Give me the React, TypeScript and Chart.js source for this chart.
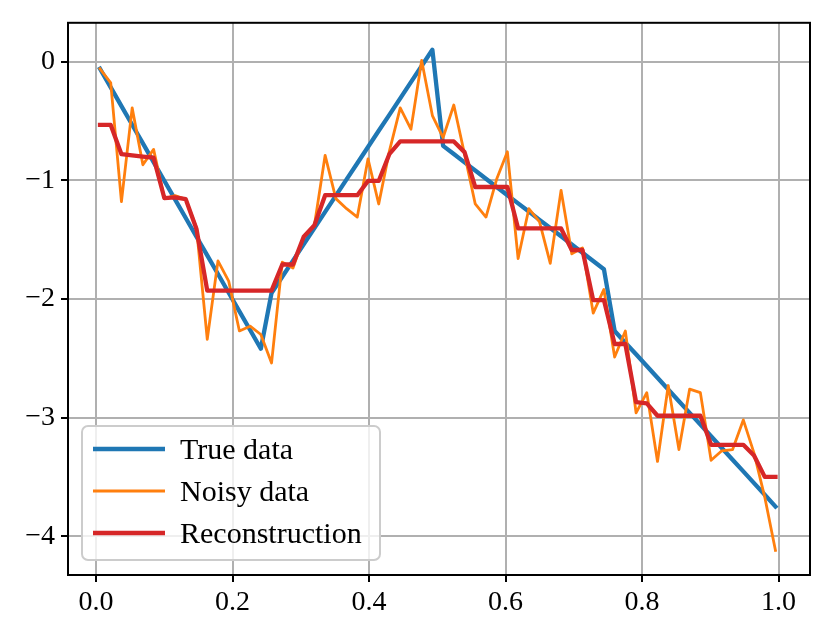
import React, { useEffect, useRef } from 'react';
import { Chart, registerables } from 'chart.js';

Chart.register(...registerables);

const xValues = [
  0.0059, 0.0216, 0.0373, 0.053, 0.0687, 0.0844, 0.1001, 0.1158,
  0.1315, 0.1472, 0.163, 0.1787, 0.1944, 0.2101, 0.2258, 0.2415,
  0.2572, 0.2729, 0.2886, 0.3043, 0.32, 0.3357, 0.3514, 0.3671,
  0.3828, 0.3985, 0.4142, 0.43, 0.4457, 0.4614, 0.4771, 0.4928,
  0.5085, 0.5242, 0.5399, 0.5556, 0.5713, 0.587, 0.6027, 0.6184,
  0.6341, 0.6498, 0.6655, 0.6813, 0.697, 0.7127, 0.7284, 0.7441,
  0.7598, 0.7755, 0.7912, 0.8069, 0.8226, 0.8383, 0.854, 0.8697,
  0.8854, 0.9011, 0.9168, 0.9326, 0.9483, 0.964, 0.9797, 0.9954,
];

const trueData = [
  -0.06, -0.217, -0.375, -0.532, -0.689, -0.847, -1.004, -1.161,
  -1.318, -1.476, -1.633, -1.79, -1.948, -2.105, -2.262, -2.42,
  -1.95, -1.813, -1.677, -1.54, -1.403, -1.267, -1.13, -0.993,
  -0.857, -0.72, -0.583, -0.447, -0.31, -0.173, -0.037, 0.1,
  -0.71, -0.779, -0.849, -0.918, -0.987, -1.057, -1.126, -1.195,
  -1.264, -1.334, -1.403, -1.472, -1.542, -1.611, -1.68, -1.75,
  -2.27, -2.369, -2.467, -2.566, -2.665, -2.763, -2.862, -2.961,
  -3.059, -3.158, -3.257, -3.355, -3.454, -3.553, -3.651, -3.75,
];

const noisyData = [
  -0.06, -0.18, -1.18, -0.39, -0.87, -0.74, -1.155, -1.13,
  -1.16, -1.4, -2.34, -1.68, -1.85, -2.27, -2.23, -2.3,
  -2.54, -1.69, -1.74, -1.48, -1.38, -0.79, -1.155, -1.24,
  -1.31, -0.82, -1.2, -0.75, -0.39, -0.57, 0.01, -0.455,
  -0.64, -0.366, -0.78, -1.2, -1.31, -0.99, -0.76, -1.66,
  -1.24, -1.35, -1.7, -1.085, -1.62, -1.57, -2.12, -1.92,
  -2.49, -2.27, -2.96, -2.79, -3.37, -2.73, -3.27, -2.76,
  -2.79, -3.36, -3.28, -3.27, -3.02, -3.3, -3.67, -4.12,
];

const reconstructionData = [
  -0.534, -0.534, -0.78, -0.79, -0.8, -0.81, -1.15, -1.145,
  -1.16, -1.41, -1.93, -1.93, -1.93, -1.93, -1.93, -1.93,
  -1.93, -1.71, -1.71, -1.476, -1.38, -1.126, -1.126, -1.126,
  -1.126, -1.006, -1.006, -0.777, -0.673, -0.673, -0.673, -0.673,
  -0.673, -0.673, -0.763, -1.057, -1.057, -1.057, -1.057, -1.406,
  -1.406, -1.406, -1.406, -1.406, -1.588, -1.588, -2.01, -2.01,
  -2.38, -2.38, -2.87, -2.88, -2.985, -2.985, -2.985, -2.985,
  -2.985, -3.23, -3.23, -3.23, -3.23, -3.32, -3.5, -3.5,
];

const seriesLabels = ['True data', 'Noisy data', 'Reconstruction'];
const xTicks = [0, 0.2, 0.4, 0.6, 0.8, 1.0];
const xTickLabels = ['0.0', '0.2', '0.4', '0.6', '0.8', '1.0'];
const yTicks = [-4, -3, -2, -1, 0];
const yTickLabels = ['\u22124', '\u22123', '\u22122', '\u22121', '0'];

const FONT = '"Liberation Serif", "Times New Roman", serif';

export default function App() {
  const ref = useRef<HTMLCanvasElement>(null);

  useEffect(() => {
    if (!ref.current) return;

    const boxAndLegend = {
      id: 'boxAndLegend',
      afterDatasetsDraw(chart: any) {
        const { ctx, chartArea: a } = chart;
        ctx.save();
        ctx.strokeStyle = '#000';
        ctx.lineWidth = 2;
        ctx.strokeRect(a.left, a.top, a.right - a.left, a.bottom - a.top);

        const lx = a.left + 14;
        const ly = a.bottom - 149;
        const lw = 298;
        const lh = 134;
        ctx.beginPath();
        ctx.roundRect(lx, ly, lw, lh, 6);
        ctx.fillStyle = 'rgba(255,255,255,0.8)';
        ctx.fill();
        ctx.strokeStyle = '#cccccc';
        ctx.lineWidth = 2;
        ctx.stroke();

        chart.data.datasets.forEach((ds: any, i: number) => {
          const cy = ly + 23 + i * 42;
          ctx.beginPath();
          ctx.moveTo(lx + 11, cy);
          ctx.lineTo(lx + 83, cy);
          ctx.strokeStyle = ds.borderColor;
          ctx.lineWidth = ds.borderWidth;
          ctx.lineCap = 'butt';
          ctx.stroke();
          ctx.fillStyle = '#000';
          ctx.font = `30px ${FONT}`;
          ctx.textBaseline = 'alphabetic';
          ctx.textAlign = 'left';
          ctx.fillText(ds.label, lx + 98, cy + 10);
        });
        ctx.restore();
      },
    };

    const mk = (arr: number[]) => xValues.map((x, i) => ({ x, y: arr[i] }));

    const common = {
      pointRadius: 0,
      tension: 0,
      fill: false,
      borderJoinStyle: 'round',
      borderCapStyle: 'square',
    };

    const chart = new Chart(ref.current, {
      type: 'line',
      data: {
        datasets: [
          { ...common, label: seriesLabels[0], data: mk(trueData), borderColor: '#1f77b4', borderWidth: 4.3, order: 3 },
          { ...common, label: seriesLabels[1], data: mk(noisyData), borderColor: '#ff7f0e', borderWidth: 2.8, order: 2 },
          { ...common, label: seriesLabels[2], data: mk(reconstructionData), borderColor: '#d62728', borderWidth: 4.3, order: 1 },
        ],
      },
      options: {
        animation: false,
        responsive: false,
        devicePixelRatio: 1,
        layout: { padding: { left: 0, top: 20, right: 21, bottom: 0 } },
        plugins: {
          legend: { display: false },
          tooltip: { enabled: false },
        },
        scales: {
          x: {
            type: 'linear',
            min: -0.041,
            max: 1.046,
            afterBuildTicks: (s: any) => {
              s.ticks = xTicks.map((v) => ({ value: v }));
            },
            afterFit: (s: any) => {
              s.height = 56;
            },
            ticks: {
              callback: (_v: any, i: number) => xTickLabels[i],
              font: { family: FONT, size: 28 },
              color: '#000',
              padding: 4,
              maxRotation: 0,
              autoSkip: false,
            },
            grid: {
              color: '#b0b0b0',
              lineWidth: 2,
              tickColor: '#000',
              tickWidth: 2,
              tickLength: 7,
            },
            border: { display: false },
          },
          y: {
            type: 'linear',
            min: -4.327,
            max: 0.327,
            afterBuildTicks: (s: any) => {
              s.ticks = yTicks.map((v) => ({ value: v }));
            },
            afterFit: (s: any) => {
              s.width = 68;
            },
            ticks: {
              callback: (_v: any, i: number) => yTickLabels[i],
              font: { family: FONT, size: 28 },
              color: '#000',
              padding: 6,
              autoSkip: false,
            },
            grid: {
              color: '#b0b0b0',
              lineWidth: 2,
              tickColor: '#000',
              tickWidth: 2,
              tickLength: 7,
            },
            border: { display: false },
          },
        },
      },
      plugins: [boxAndLegend],
    } as any);

    return () => chart.destroy();
  }, []);

  return (
    <div style={{ position: 'absolute', left: 0, top: 0, width: 831, height: 631, background: '#fff' }}>
      <canvas ref={ref} width={831} height={631} />
    </div>
  );
}
